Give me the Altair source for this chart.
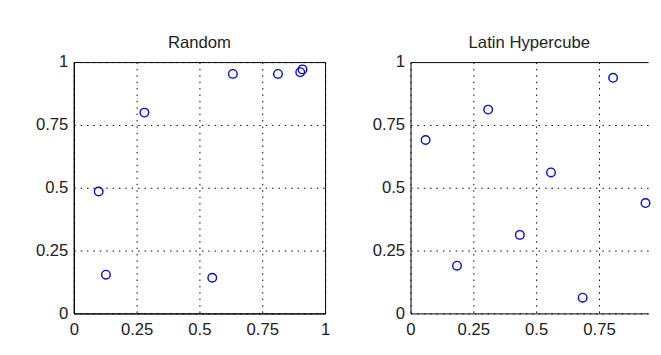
import altair as alt
import pandas as pd

# Random sample points
rand_x = [0.099, 0.128, 0.281, 0.551, 0.633, 0.8125, 0.901, 0.910]
rand_y = [0.485, 0.154, 0.799, 0.142, 0.953, 0.953, 0.960, 0.971]
# Latin hypercube sample points
lhs_x = [0.060, 0.185, 0.309, 0.435, 0.559, 0.685, 0.806, 0.935]
lhs_y = [0.690, 0.190, 0.811, 0.3125, 0.561, 0.0625, 0.9375, 0.439]

tick_vals = [0, 0.25, 0.5, 0.75, 1]
tick_vals_right = [0, 0.25, 0.5, 0.75]
titles = ["Random", "Latin Hypercube"]

df_r = pd.DataFrame({"x": rand_x, "y": rand_y})
df_l = pd.DataFrame({"x": lhs_x, "y": lhs_y})

FONT = "Liberation Sans"
TXT = "#222222"
FS = 17
LBL = "'' + datum.value"
DOTS = [1.5, 5]


def xaxis(vals):
    return alt.Axis(values=vals, labelExpr=LBL, grid=True, gridDash=DOTS,
                    gridColor="black", gridWidth=1, ticks=False, domain=True,
                    domainColor="black", labelFont=FONT, labelFontSize=FS,
                    labelColor=TXT, labelPadding=8, title=None, labelFlush=False)


def yaxis(solid_top=False):
    dash = DOTS
    if solid_top:
        # the top grid line doubles as the frame's upper edge
        dash = {"condition": {"test": "datum.value == 1", "value": []}, "value": DOTS}
    return alt.Axis(values=tick_vals, labelExpr=LBL, grid=True, gridDash=dash,
                    gridColor="black", gridWidth=1, ticks=False, domain=True,
                    domainColor="black", labelFont=FONT, labelFontSize=FS,
                    labelColor=TXT, labelPadding=6, title=None, labelFlush=False)


def ttl(t):
    return alt.TitleParams(t, font=FONT, fontSize=FS, fontWeight="normal",
                           color=TXT, offset=-12, baseline="alphabetic",
                           anchor="middle", frame="group")


def points(df, dom, vals, solid_top=False):
    return alt.Chart(df).mark_point(shape="circle", size=76, color="#0000ff",
                                    strokeWidth=1.4, filled=False, opacity=1).encode(
        x=alt.X("x:Q", scale=alt.Scale(domain=dom, nice=False, zero=False),
                axis=xaxis(vals)),
        y=alt.Y("y:Q", scale=alt.Scale(domain=[0, 1], nice=False, zero=False),
                axis=yaxis(solid_top)),
    )


left = points(df_r, [0, 1], tick_vals).properties(
    width=256, height=256, title=ttl(titles[0]))

# the right panel is cut off by the picture's edge, as in the reference
RW = 242
dom_r = [0, RW / 256]
right = points(df_l, dom_r, tick_vals_right, solid_top=True).properties(
    width=RW, height=256, title=ttl(titles[1]),
    view=alt.ViewBackground(stroke=None))

chart = alt.hconcat(left, right, spacing=41).properties(
    padding={"left": 27, "top": 23, "right": 0, "bottom": 0},
    background="white",
).configure_view(stroke="black", strokeWidth=1)

chart.save("out.html", embed_options={"renderer": "svg", "actions": False})
